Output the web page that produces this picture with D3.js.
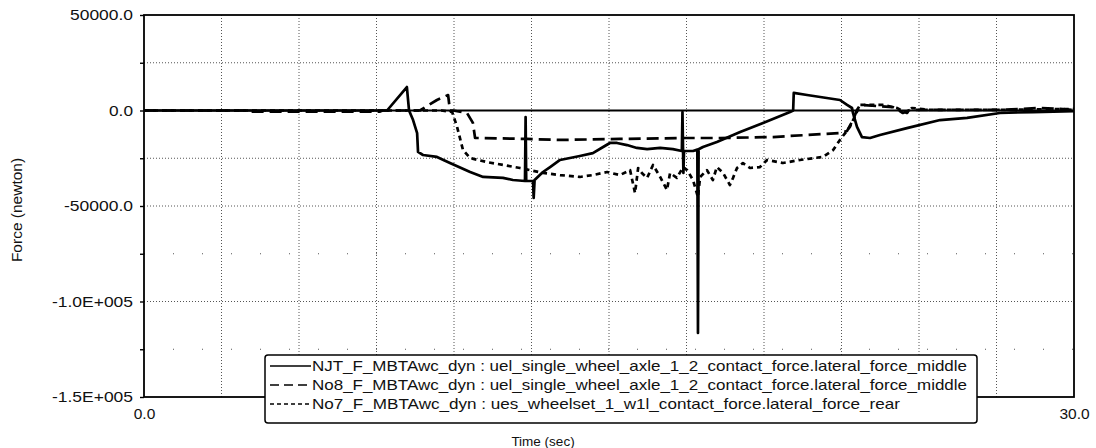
<!DOCTYPE html>
<html><head><meta charset="utf-8">
<script src="https://cdn.jsdelivr.net/npm/d3@7"></script>
<style>
html,body{margin:0;padding:0;background:#fff;}
text{font-family:"Liberation Sans",Arial,sans-serif;fill:#111;}
</style></head>
<body><svg id="c" width="1096" height="448"></svg>
<script>
// ---- data (time in s, force in N) ----
const timeNJT = [0,7.84,8.48,8.55,8.68,8.81,8.84,9.0,9.45,9.87,10.52,10.94,11.58,11.9,12.29,12.31,12.33,12.55,12.57,12.6,12.87,13.1,13.42,14.06,14.48,14.81,15.03,15.26,15.58,15.9,16.23,16.65,17.06,17.35,17.37,17.40,17.42,17.71,17.85,17.87,17.89,18.03,18.48,19.23,19.97,20.84,20.94,20.96,21.39,22.45,22.68,22.84,22.87,23.0,23.16,23.42,23.74,24.61,25.68,26.55,27.61,28.68,30];
const forceNJT = [0,0,12300,0,-5000,-11800,-21700,-23300,-24300,-27500,-32200,-34800,-35300,-36400,-36900,-3400,-36900,-36900,-45800,-36400,-32200,-29600,-25900,-23800,-22300,-19100,-17000,-17000,-18100,-19600,-20200,-19600,-20200,-21200,-800,-32700,-21200,-21200,-20500,-116500,-20300,-19100,-16500,-11300,-6500,-800,0,9200,8100,5500,2900,1300,-1300,-8600,-13900,-14400,-12800,-9200,-5000,-3900,-1300,-800,-300];

const timeNo8 = [0,3.3,3.35,7.6,7.7,8.9,9.45,9.81,9.87,9.97,10.42,10.61,10.68,10.84,12.35,13.42,15.35,17.39,18.58,20.29,21.39,22.45,22.68,22.87,23.0,23.1,24.16,24.48,24.71,25.68,27.6,28.9,29.55,30];
const forceNo8 = [0,0,-600,-600,0,0,5500,8100,0,0,-1300,-6500,-14400,-14400,-14900,-15400,-14900,-14400,-14400,-13900,-12800,-11800,-10700,-5000,300,2900,1800,-1300,300,300,300,1300,800,300];

const timeNo7 = [0,9.6,9.94,10.1,10.29,10.52,11.06,11.58,12.13,12.45,12.87,13.42,14.06,14.48,14.94,15.35,15.68,15.77,15.84,15.94,16.06,16.23,16.42,16.65,16.87,16.97,17.19,17.39,17.52,17.71,17.87,17.94,18.16,18.35,18.48,18.68,18.9,19.0,19.13,19.32,19.55,19.87,20.1,20.61,21.16,21.9,22.23,22.45,22.77,23.1,23.84,24.29,24.61,24.77,25.35,27.6,30];
const forceNo7 = [0,0,-800,-8600,-20700,-24900,-27000,-28500,-30100,-31200,-32700,-33800,-34800,-33800,-32200,-33800,-31200,-38000,-43200,-30100,-32700,-35300,-28500,-34800,-41600,-32700,-35300,-29600,-31200,-36400,-45300,-34800,-31200,-36400,-29600,-32700,-39000,-35300,-30100,-27500,-30100,-29600,-25900,-27500,-25900,-24300,-20700,-15400,-8600,2900,2900,1300,-1300,1300,300,300,800];

const legendLabels = [
  "NJT_F_MBTAwc_dyn : uel_single_wheel_axle_1_2_contact_force.lateral_force_middle",
  "No8_F_MBTAwc_dyn : uel_single_wheel_axle_1_2_contact_force.lateral_force_middle",
  "No7_F_MBTAwc_dyn : ues_wheelset_1_w1l_contact_force.lateral_force_rear"
];
const yTickValues = [50000,25000,0,-25000,-50000,-75000,-100000,-125000,-150000];
const yTickLabels = {"50000":"50000.0","0":"0.0","-50000":"-50000.0","-100000":"-1.0E+005","-150000":"-1.5E+005"};
const xTickValues = [0,30];
const xTickLabels = ["0.0","30.0"];
const xGridValues = [2.5,5,7.5,10,12.5,15,17.5,20,22.5,25,27.5];
const yGridDense = [25000,-25000,-50000,-100000];
const yGridSparse = [-75000,-125000];

// ---- layout ----
const L=144,R=1074,T=15,B=397;
const svg=d3.select("#c");
const x=d3.scaleLinear().domain([0,30]).range([L,R]);
const y=d3.scaleLinear().domain([-150000,50000]).range([B,T]);

// grid
const g=svg.append("g");
g.selectAll(".vg").data(xGridValues).enter().append("line")
  .attr("x1",d=>x(d)).attr("x2",d=>x(d)).attr("y1",T).attr("y2",B)
  .attr("stroke","#555").attr("stroke-width",1).attr("stroke-dasharray","1,2");
g.selectAll(".hg").data(yGridDense).enter().append("line")
  .attr("y1",d=>y(d)).attr("y2",d=>y(d)).attr("x1",L).attr("x2",R)
  .attr("stroke","#555").attr("stroke-width",1).attr("stroke-dasharray","1,2");
g.selectAll(".hs").data(yGridSparse).enter().append("line")
  .attr("y1",d=>y(d)).attr("y2",d=>y(d)).attr("x1",L).attr("x2",R)
  .attr("stroke","#555").attr("stroke-width",1).attr("stroke-dasharray","1,28");

// zero line
svg.append("line").attr("x1",L).attr("x2",R).attr("y1",y(0)).attr("y2",y(0))
  .attr("stroke","#000").attr("stroke-width",2);

// series
const line=d3.line().x(d=>x(d[0])).y(d=>y(d[1]));
const series=[
  {t:timeNJT,v:forceNJT,dash:null},
  {t:timeNo8,v:forceNo8,dash:"12,6"},
  {t:timeNo7,v:forceNo7,dash:"5,4"}
];
series.forEach(s=>{
  svg.append("path").datum(s.t.map((t,i)=>[t,s.v[i]]))
    .attr("d",line).attr("fill","none").attr("stroke","#000")
    .attr("stroke-width",2.7).attr("stroke-linejoin","round")
    .attr("stroke-dasharray",s.dash);
});

// frame
svg.append("rect").attr("x",L).attr("y",T).attr("width",R-L).attr("height",B-T)
  .attr("fill","none").attr("stroke","#000").attr("stroke-width",1.8);

// y axis
const ya=svg.append("g").attr("transform",`translate(${L},0)`)
  .call(d3.axisLeft(y).tickValues(yTickValues).tickSize(4).tickPadding(7)
    .tickFormat(d=>yTickLabels[String(d)]||""));
ya.select(".domain").remove();
ya.selectAll(".tick line").attr("stroke","#000").attr("stroke-width",1.4);
ya.selectAll(".tick text").style("font-size","15.5px").attr("fill","#111")
  .style("font-family","'Liberation Sans',Arial,sans-serif")
  .each(function(d){
    const w={"50000":63,"0":24,"-50000":69,"-100000":81,"-150000":81}[String(d)];
    if(w){d3.select(this).attr("textLength",w).attr("lengthAdjust","spacingAndGlyphs");}
  });

// x axis
const xa=svg.append("g").attr("transform",`translate(0,${B})`)
  .call(d3.axisBottom(x).tickValues(xTickValues).tickSize(0).tickPadding(11)
    .tickFormat((d,i)=>xTickLabels[i]));
xa.select(".domain").remove();
xa.selectAll(".tick text").style("font-size","15.5px").attr("fill","#111")
  .style("font-family","'Liberation Sans',Arial,sans-serif");

// axis titles
svg.append("text").attr("x",543).attr("y",446).attr("text-anchor","middle")
  .style("font-size","13.5px").text("Time (sec)");
svg.append("text").attr("transform","translate(22,210) rotate(-90)").attr("text-anchor","middle")
  .style("font-size","15.5px").text("Force (newton)");

// legend
const lg=svg.append("g");
lg.append("rect").attr("x",265).attr("y",355).attr("width",712).attr("height",68)
  .attr("rx",3).attr("fill","#fff").attr("stroke","#000").attr("stroke-width",1.5);
const rowsY=[371,390,409];
const widths=[655,655,588];
const dashes=[null,"9,5","4,3"];
legendLabels.forEach((lab,i)=>{
  lg.append("line").attr("x1",270).attr("x2",311).attr("y1",rowsY[i]-5).attr("y2",rowsY[i]-5)
    .attr("stroke","#000").attr("stroke-width",1.7).attr("stroke-dasharray",dashes[i]);
  lg.append("text").attr("x",312).attr("y",rowsY[i]).style("font-size","14.5px")
    .attr("textLength",widths[i]).attr("lengthAdjust","spacingAndGlyphs").text(lab);
});
</script></body></html>
